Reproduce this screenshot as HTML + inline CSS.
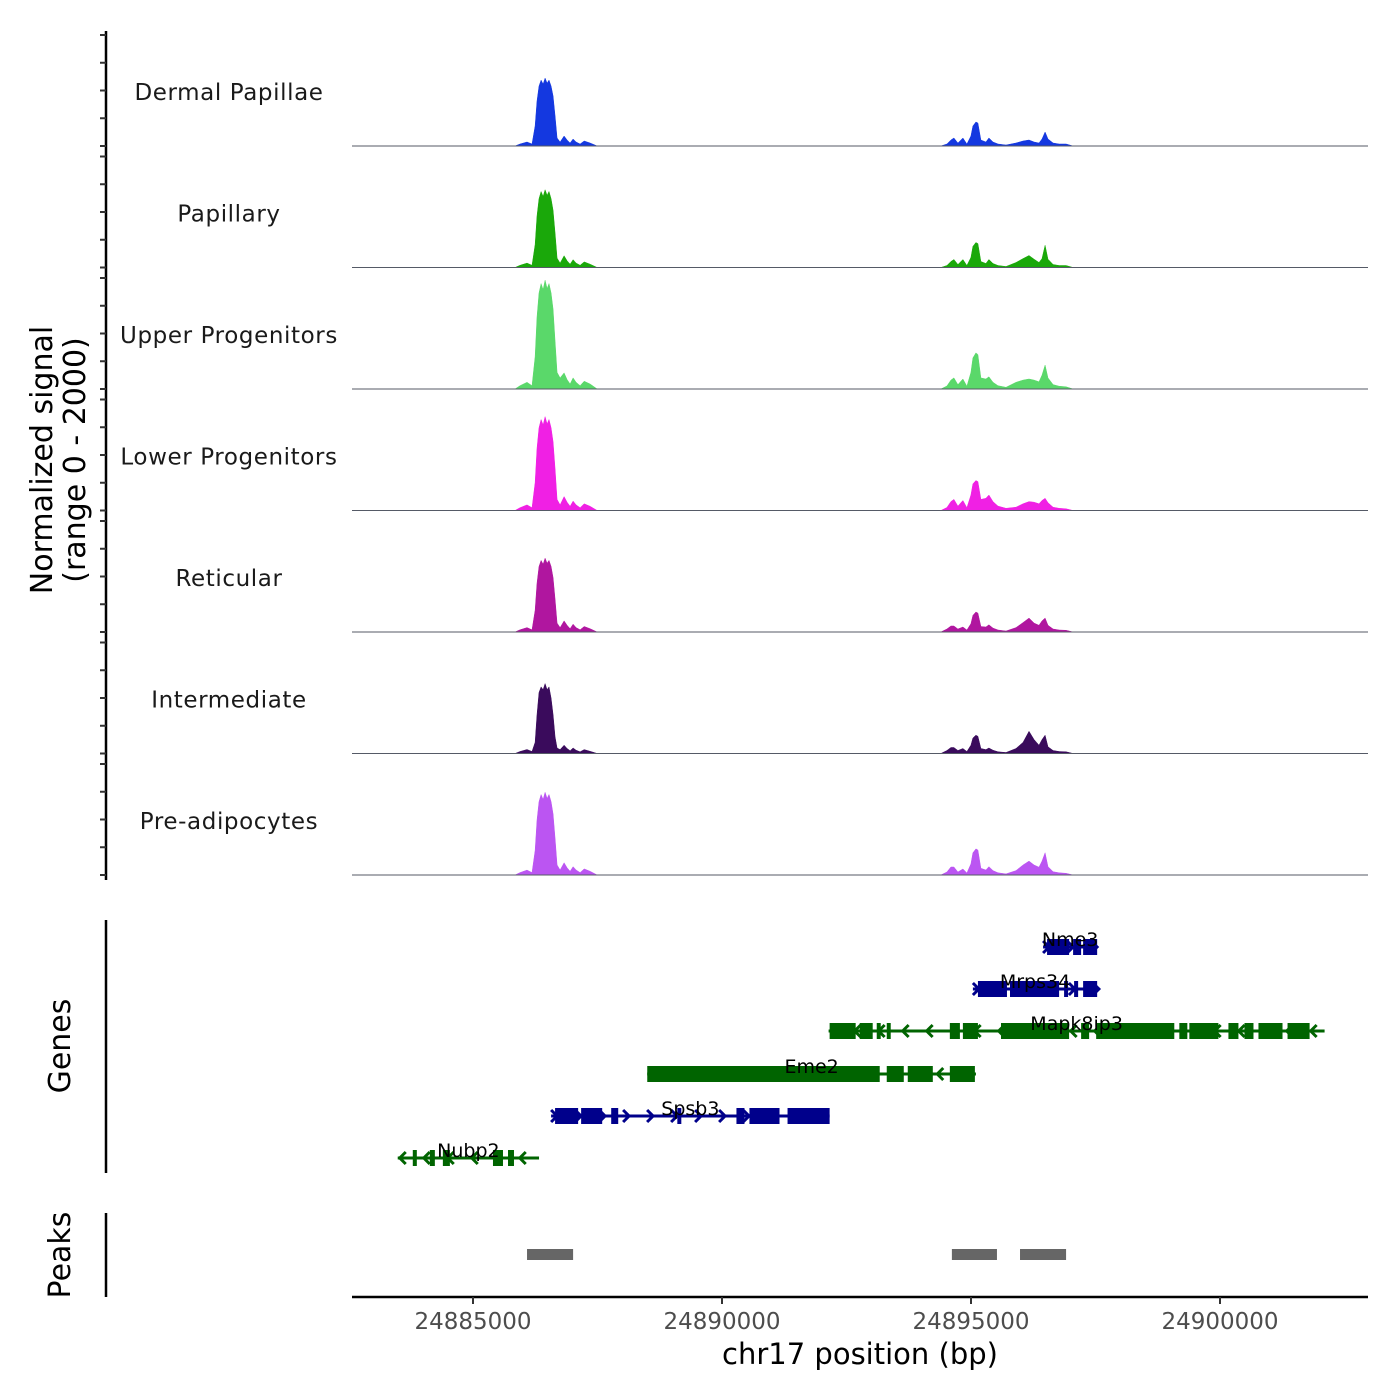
<!DOCTYPE html>
<html><head><meta charset="utf-8">
<style>
html,body{margin:0;padding:0;background:#fff;}
svg{display:block;font-family:"DejaVu Sans","Liberation Sans",sans-serif;}
</style></head>
<body>
<svg id="chart" width="1400" height="1400" viewBox="0 0 1400 1400">
<g id="tracks"></g>
<g id="genes"></g>
<g id="peaks"></g>
<g id="axes"></g>
</svg>
<script>
// ---- data ----
const trackNames = ["Dermal Papillae","Papillary","Upper Progenitors","Lower Progenitors","Reticular","Intermediate","Pre-adipocytes"];
const trackColors = ["#1438e0","#1aa80a","#5ad86a","#f020e4","#b0169f","#3a0b5c","#bb55f2"];
const signalPositions = [24885843,24885943,24886085,24886185,24886246,24886286,24886326,24886367,24886407,24886447,24886487,24886527,24886568,24886608,24886648,24886688,24886749,24886829,24886890,24886950,24887010,24887071,24887151,24887232,24887352,24887493,
 24894394,24894515,24894596,24894656,24894736,24894837,24894917,24894998,24895038,24895099,24895139,24895199,24895300,24895360,24895441,24895541,24895702,24895903,24896044,24896165,24896266,24896366,24896426,24896487,24896547,24896648,24896769,24896909,24897050];
const sigDermal = [0,36,72,36,360,810,1080,1188,1116,1224,1134,1188,1080,900,540,144,72,180,108,54,126,72,36,90,54,0,
 0,36,108,144,54,144,36,180,360,432,414,108,72,144,72,36,18,54,90,108,72,54,126,252,126,54,36,36,0];
const sigPapillary = [0,40,80,40,410,930,1240,1370,1280,1400,1300,1370,1240,1030,620,170,80,210,120,60,140,80,40,100,60,0,
 0,36,108,144,54,144,36,180,380,450,430,108,72,144,72,36,18,90,160,216,150,90,160,400,150,54,36,36,0];
const sigUpper = [0,60,120,60,580,1300,1730,1900,1790,1960,1810,1900,1730,1440,860,300,200,290,170,90,200,120,60,140,90,0,
 0,54,160,200,80,180,50,300,560,650,620,200,180,220,120,60,30,120,160,180,160,130,250,430,200,80,50,40,0];
const sigLower = [0,50,100,50,500,1120,1490,1640,1540,1690,1560,1640,1490,1240,750,200,100,250,150,75,170,100,50,120,75,0,
 0,54,160,200,80,180,50,280,480,540,520,200,220,280,160,80,40,60,120,160,150,120,180,220,140,60,40,30,0];
const sigReticular = [0,40,80,40,390,880,1180,1290,1220,1330,1240,1290,1180,980,590,160,80,200,120,60,140,80,40,100,60,0,
 0,54,108,108,54,90,36,150,300,360,340,100,90,130,70,36,18,80,170,250,160,120,200,250,120,54,36,30,0];
const sigIntermediate = [0,36,72,36,200,700,1100,1200,1150,1260,1150,1200,1000,700,300,100,70,150,90,50,100,60,30,70,40,0,
 0,54,108,108,54,90,36,150,280,330,310,90,70,100,60,30,18,90,200,400,250,150,250,330,120,54,36,30,0];
const sigPreadipo = [0,44,88,44,440,990,1320,1450,1360,1490,1380,1450,1320,1100,660,180,90,220,130,66,150,90,44,110,66,0,
 0,54,144,144,54,108,36,200,400,470,450,120,90,150,80,40,20,80,180,250,180,140,250,400,150,60,40,30,0];
const trackSignals = [sigDermal,sigPapillary,sigUpper,sigLower,sigReticular,sigIntermediate,sigPreadipo];

const xTicks = [24885000,24890000,24895000,24900000];
const xTickLabels = ["24885000","24890000","24895000","24900000"];
const yTicks = [0,500,1000,1500,2000];

const geneNames = ["Nme3","Mrps34","Mapk8ip3","Eme2","Spsb3","Nubp2"];
const geneStrand = ["+","+","-","-","+","-"];
const geneStart = [24896447,24895038,24892141,24888499,24886568,24883489];
const geneEnd = [24897533,24897533,24902100,24895099,24892161,24886326];
const geneExons = [
 [[24896527,24896970],[24897050,24897211],[24897251,24897533]],
 [[24895139,24895722],[24895783,24896769],[24896869,24896950],[24897070,24897151],[24897251,24897533]],
 [[24892161,24892684],[24892765,24893026],[24893107,24893187],[24893308,24893388],[24894575,24894777],[24894837,24895139],[24895602,24896970],[24897211,24897372],[24897513,24899082],[24899183,24899344],[24899384,24899968],[24900169,24900370],[24900491,24900672],[24900772,24901255],[24901356,24901799]],
 [[24888499,24893167],[24893308,24893650],[24893730,24894233],[24894575,24895078]],
 [[24886648,24887111],[24887171,24887594],[24887775,24887916],[24889103,24889183],[24890290,24890451],[24890551,24891155],[24891316,24892161]],
 [[24883791,24883872],[24884133,24884234],[24884395,24884536],[24885401,24885602],[24885703,24885823]]
];
const peakStart = [24886085,24894616,24895984];
const peakEnd = [24887010,24895521,24896909];

// ---- scales ----
const NS="http://www.w3.org/2000/svg";
const X0=352,X1=1368;
function xs(bp){return 473+(bp-24885000)/20.08;}
const panelBase=[146,267.5,389,510.5,632,753.5,875];
const panelH=111;
function ys(i,v){return panelBase[i]-v/2000*panelH;}
function mk(tag,attrs,parent){const e=document.createElementNS(NS,tag);for(const k in attrs)e.setAttribute(k,attrs[k]);parent.appendChild(e);return e;}

const gT=document.getElementById('tracks');
const gA=document.getElementById('axes');
let ax=mk('line',{x1:106,y1:31,x2:106,y2:880,stroke:'#000','stroke-width':2.5},gA);


trackNames.forEach((name,i)=>{
  const g=mk('g',{},gT);
  
  
  const sig=trackSignals[i];
  let d='M'+X0+','+panelBase[i]+' L'+xs(signalPositions[0]).toFixed(1)+','+panelBase[i];
  for(let k=0;k<signalPositions.length;k++){d+=' L'+xs(signalPositions[k]).toFixed(1)+','+ys(i,sig[k]).toFixed(1);}
  d+=' L'+X1+','+panelBase[i]+' Z';
  const p=mk('path',{d:d,fill:trackColors[i],stroke:trackColors[i],'stroke-width':0.5},g);
  
  
  const bl=mk('line',{x1:X0,y1:panelBase[i],x2:X1,y2:panelBase[i],stroke:'#555a66','stroke-width':1},g);
  
  
  const t=mk('text',{x:229,y:panelBase[i]-46,'text-anchor':'middle','font-size':23,fill:'#1a1a1a','letter-spacing':'0.6'},g);
  t.textContent=name;
  
  
  yTicks.forEach(v=>{
    const tk=mk('line',{x1:100,x2:106,y1:ys(i,v),y2:ys(i,v),stroke:'#333','stroke-width':2},gA);
    
    
  });
});
const yt=mk('text',{transform:'translate(52,460) rotate(-90)','text-anchor':'middle','font-size':30,fill:'#000'},gA);


const ts1=mk('tspan',{x:0,dy:0},yt);ts1.textContent='Normalized signal';
const ts2=mk('tspan',{x:0,dy:33},yt);ts2.textContent='(range 0 - 2000)';

// genes
const gG=document.getElementById('genes');
let ga=mk('line',{x1:106,y1:920,x2:106,y2:1173,stroke:'#000','stroke-width':2.5},gA);


const gl=mk('text',{transform:'translate(70,1046) rotate(-90)','text-anchor':'middle','font-size':30,fill:'#000'},gA);
gl.textContent='Genes';


const geneRowY=[947,989,1031,1074,1116,1158];
geneNames.forEach((name,i)=>{
  const col=geneStrand[i]==='+'?'#00008b':'#006400';
  const y=geneRowY[i];
  const g=mk('g',{},gG);
  
  
  const a=xs(geneStart[i]),b=xs(geneEnd[i]);
  mk('line',{x1:a,x2:b,y1:y,y2:y,stroke:col,'stroke-width':3},g);
  for(let x=a+4;x<b;x+=24){
    const s=geneStrand[i]==='+'?1:-1;
    mk('polyline',{points:`${x-4*s},${y-6} ${x+2*s},${y} ${x-4*s},${y+6}`,fill:'none',stroke:col,'stroke-width':3},g);
  }
  geneExons[i].forEach(e=>{
    const r=mk('rect',{x:xs(e[0]),y:y-8,width:Math.max(3,xs(e[1])-xs(e[0])),height:16,fill:col},g);
    
    
  });
  const t=mk('text',{x:(a+b)/2,y:y-1,'text-anchor':'middle','font-size':19,fill:'#000'},g);
  t.textContent=name;
  
  
});

// peaks
const gP=document.getElementById('peaks');
let pa=mk('line',{x1:106,y1:1213,x2:106,y2:1297,stroke:'#000','stroke-width':2.5},gA);


const pl=mk('text',{transform:'translate(70,1255) rotate(-90)','text-anchor':'middle','font-size':30,fill:'#000'},gA);
pl.textContent='Peaks';


peakStart.forEach((s,i)=>{
  const r=mk('rect',{x:xs(s),y:1249,width:xs(peakEnd[i])-xs(s),height:11,fill:'#666666'},gP);
  
  
});

// x axis
const xa=mk('line',{x1:X0,y1:1297,x2:X1,y2:1297,stroke:'#000','stroke-width':2.5},gA);


xTicks.forEach((v,i)=>{
  const tk=mk('line',{x1:xs(v),x2:xs(v),y1:1297,y2:1304,stroke:'#333','stroke-width':2},gA);
  
  
  const t=mk('text',{x:xs(v),y:1329,'text-anchor':'middle','font-size':23,fill:'#4d4d4d'},gA);
  t.textContent=xTickLabels[i];
  
  
});
const xt=mk('text',{x:860,y:1364,'text-anchor':'middle','font-size':29,fill:'#000'},gA);
xt.textContent='chr17 position (bp)';


</script>
</body></html>
